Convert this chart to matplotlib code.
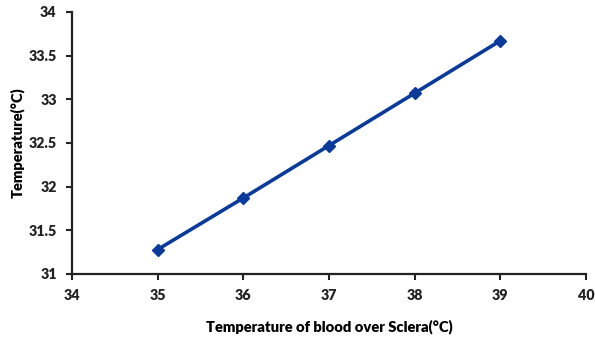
import matplotlib.pyplot as plt

plt.rcParams["font.family"] = ["Lato", "DejaVu Sans"]

blood_temp = [35, 36, 37, 38, 39]
sclera_temp = [31.28, 31.87, 32.47, 33.07, 33.67]
x_ticks = [34, 35, 36, 37, 38, 39, 40]
y_ticks = [31, 31.5, 32, 32.5, 33, 33.5, 34]
y_tick_labels = ["31", "31.5", "32", "32.5", "33", "33.5", "34"]

fig = plt.figure(figsize=(5.95, 3.49), dpi=100)
ax = fig.add_axes([0.121, 0.215, 0.864, 0.751])

ax.plot(blood_temp, sclera_temp, color="#0a3a9a", lw=2.6, marker="D", ms=6.5)

ax.set_xlim(34, 40)
ax.set_ylim(31, 34)
ax.set_xticks(x_ticks)
ax.set_yticks(y_ticks)
ax.set_xticklabels([str(t) for t in x_ticks], fontweight="heavy", fontsize=10.3)
ax.set_yticklabels(y_tick_labels, fontweight="heavy", fontsize=10.3)
ax.tick_params(direction="out", length=4, width=1.5, colors="#222222", pad=7)

for side in ("top", "right"):
    ax.spines[side].set_visible(False)
for side in ("left", "bottom"):
    ax.spines[side].set_linewidth(1.6)
    ax.spines[side].set_color("#222222")

ax.set_xlabel("Temperature of blood over Sclera(°C)", fontweight="heavy", fontsize=10.6, labelpad=12)
ax.set_ylabel("Temperature(°C)", fontweight="heavy", fontsize=10.6, labelpad=3)

fig.savefig("out.png", dpi=100)
